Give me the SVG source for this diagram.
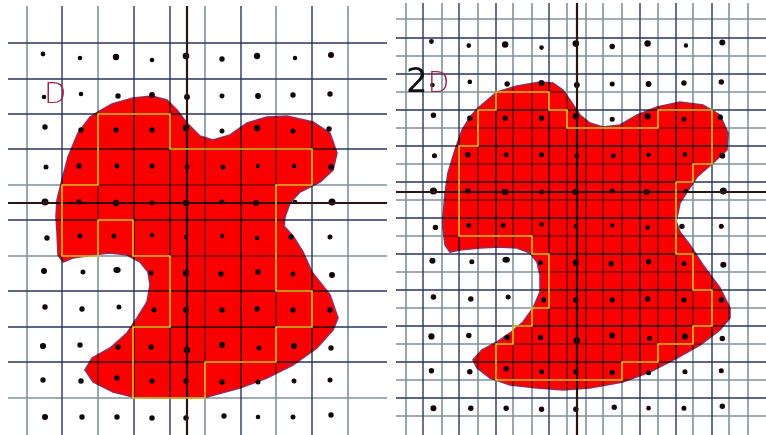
<svg xmlns="http://www.w3.org/2000/svg" xmlns:xlink="http://www.w3.org/1999/xlink" width="766" height="435" viewBox="0 0 766 435">
<style>
.gd{stroke:#28355e;stroke-width:1.4}
.gl{stroke:#7f939b;stroke-width:1.6}
.ax{stroke:#2a1510;stroke-width:2.2;fill:none}
.blob{fill:#fa0000;stroke:#9a2a55;stroke-width:1.6;mix-blend-mode:multiply}
.yel{fill:none;stroke:#e6c21c;stroke-width:1.6}
.dot{fill:#120606;stroke:#120606;stroke-width:1.4}
.hw{font-family:"DejaVu Sans",sans-serif;font-weight:200}
</style>
<defs>
<g id="dots" class="dot">
<circle cx="43" cy="54" r="1.7"/><circle cx="80" cy="58" r="1.6"/><circle cx="116" cy="57" r="2.5"/><circle cx="152" cy="60" r="1.6"/><circle cx="186" cy="56" r="2.6"/><circle cx="222" cy="59" r="2"/><circle cx="257" cy="56" r="2.5"/><circle cx="295" cy="58" r="1.5"/><circle cx="331" cy="55" r="2.3"/>
<circle cx="44" cy="97" r="1.6"/><circle cx="81" cy="94" r="1.6"/><circle cx="118" cy="96" r="2"/><circle cx="152" cy="95" r="2.2"/><circle cx="187" cy="97" r="2.2"/><circle cx="222" cy="96" r="1.8"/><circle cx="258" cy="96" r="2.2"/><circle cx="293" cy="95" r="2"/><circle cx="330" cy="94" r="2"/>
<circle cx="45" cy="127" r="2"/><circle cx="81" cy="130" r="2"/><circle cx="116" cy="130" r="2"/><circle cx="152" cy="130" r="2"/><circle cx="186" cy="128" r="2.5"/><circle cx="222" cy="131" r="1.8"/><circle cx="257" cy="128" r="2.5"/><circle cx="293" cy="131" r="1.8"/><circle cx="329" cy="129" r="2"/>
<circle cx="46" cy="167" r="1.8"/><circle cx="79" cy="166" r="2"/><circle cx="117" cy="166" r="1.8"/><circle cx="152" cy="166" r="1.8"/><circle cx="187" cy="167" r="1.8"/><circle cx="223" cy="167" r="1.8"/><circle cx="258" cy="166" r="1.5"/><circle cx="294" cy="166" r="1.6"/><circle cx="331" cy="167" r="2.2"/>
<circle cx="45" cy="202" r="2.8"/><circle cx="79" cy="202" r="2"/><circle cx="116" cy="203" r="2.5"/><circle cx="152" cy="203" r="1.7"/><circle cx="186" cy="203" r="2.5"/><circle cx="222" cy="202" r="1.8"/><circle cx="256" cy="203" r="2.3"/><circle cx="295" cy="202" r="1.6"/><circle cx="332" cy="202" r="2.8"/>
<circle cx="47" cy="238" r="2"/><circle cx="80" cy="236" r="1.8"/><circle cx="114" cy="236" r="1.8"/><circle cx="152" cy="235" r="1.6"/><circle cx="186" cy="237" r="1.6"/><circle cx="222" cy="236" r="1.5"/><circle cx="257" cy="238" r="1.6"/><circle cx="291" cy="237" r="2"/><circle cx="330" cy="237" r="1.8"/>
<circle cx="44" cy="271" r="2.3"/><circle cx="83" cy="272" r="1.8"/><ellipse cx="117" cy="270" rx="3" ry="2.3"/><circle cx="151" cy="273" r="1.8"/><circle cx="186" cy="273" r="2.5"/><circle cx="221" cy="274" r="2"/><circle cx="258" cy="272" r="2"/><circle cx="293" cy="274" r="1.7"/><circle cx="332" cy="275" r="2.3"/>
<circle cx="45" cy="307" r="2"/><circle cx="82" cy="309" r="2"/><circle cx="119" cy="307" r="1.8"/><circle cx="154" cy="310" r="1.8"/><circle cx="186" cy="310" r="2.2"/><circle cx="222" cy="310" r="2"/><circle cx="257" cy="309" r="2"/><circle cx="293" cy="310" r="2"/><circle cx="330" cy="310" r="2"/>
<circle cx="43" cy="346" r="2.4"/><circle cx="80" cy="345" r="2"/><circle cx="118" cy="347" r="2"/><circle cx="151" cy="347" r="2"/><circle cx="187" cy="350" r="2.6"/><circle cx="222" cy="345" r="2.2"/><circle cx="259" cy="348" r="1.8"/><circle cx="294" cy="346" r="2.2"/><circle cx="331" cy="348" r="2"/>
<circle cx="43" cy="380" r="2"/><circle cx="81" cy="381" r="2"/><circle cx="117" cy="378" r="2"/><circle cx="152" cy="381" r="1.8"/><circle cx="186" cy="381" r="2"/><circle cx="222" cy="382" r="2"/><circle cx="258" cy="382" r="1.8"/><circle cx="294" cy="381" r="1.8"/><circle cx="330" cy="380" r="1.8"/>
<circle cx="45" cy="417" r="2.3"/><circle cx="82" cy="417" r="2"/><circle cx="117" cy="417" r="2"/><circle cx="152" cy="418" r="2"/><circle cx="186" cy="418" r="2"/><circle cx="224" cy="416" r="2"/><circle cx="258" cy="417" r="1.6"/><circle cx="293" cy="417" r="1.8"/><circle cx="331" cy="415" r="2"/>
</g>
</defs>
<rect width="766" height="435" fill="#ffffff"/>

<g id="left-panel">
<g id="left-grid">
<path class="gl" d="M27 6V435M98 6V435M205 6V435M276 6V435M348 6V435M8 185H387M8 256H387M8 398H387"/>
<path class="gd" d="M62 6V435M134 6V435M170 6V435M241 6V435M312 6V435M8 43H387M8 79H387M8 114H387M8 149H387M8 220H387M8 291H387M8 327H387M8 362H387"/>
</g>
<use xlink:href="#dots"/>
<g id="left-axes"><path class="ax" d="M8 203H387M187 6V435"/></g>
<path id="left-blob" class="blob" d="M98 112L112 104L133 98L152 96L167 100L177 110L187 123L200 136L213 140L230 135L247 123L267 117L287 116L313 122L330 133L337 153L333 170L320 182L300 192L290 203L285 217L284 226L293 236L303 252L312 272L330 295L338 318L333 330L317 348L293 365L267 378L240 388L207 397L187 398L157 398L133 397L113 392L93 382L85 370L92 358L110 348L127 333L137 318L147 302L150 285L148 272L140 262L127 255L110 253L93 255L73 258L63 262L58 255L57 232L56 217L57 200L62 180L68 157L78 133L90 117Z"/>
<path id="left-outline" class="yel" d="M98 114H170V149H312V185H276V291H312V327H276V362H205V398H133V327H170V256H133V220H98V256H62V185H98Z"/>
<text class="hw" x="44" y="103" font-size="29" fill="#a0204f">D</text>
</g>

<g id="right-panel">
<g id="right-grid">
<path class="gl" d="M406 3V435M442 3V435M478 3V435M513 3V435M532 3V435M567 3V435M586 3V435M603 3V435M622 3V435M658 3V435M693 3V435M729 3V435M748 3V435M396 19H766M396 56H766M396 92H766M396 128H766M396 164H766M396 200H766M396 236H766M396 272H766M396 308H766M396 344H766M396 380H766M396 416H766"/>
<path class="gd" d="M423 3V435M459 3V435M496 3V435M549 3V435M640 3V435M676 3V435M712 3V435M396 38H766M396 74H766M396 110H766M396 146H766M396 182H766M396 218H766M396 254H766M396 290H766M396 326H766M396 362H766M396 398H766"/>
</g>
<use xlink:href="#dots" transform="translate(388,-13) scale(1.01)"/>
<g id="right-axes"><path class="ax" d="M396 192H766M577 3V435"/></g>
<path id="right-blob" class="blob" d="M478 108L497 92L517 86L540 82L553 83L563 90L572 103L580 115L590 123L603 127L620 125L637 115L657 107L680 102L703 105L720 115L728 133L727 150L713 163L697 177L687 192L680 203L678 213L676 221L680 232L690 245L703 265L720 288L730 308L730 318L720 330L700 345L677 358L650 372L623 382L590 388L563 390L537 388L510 385L490 378L477 368L473 360L482 350L497 342L510 333L523 322L533 308L540 292L540 275L537 262L530 253L517 248L500 247L480 248L460 250L450 252L445 245L443 228L443 217L445 193L448 173L455 150L462 130L470 117Z"/>
<path id="right-outline" class="yel" d="M496 92H549V110H567V128H658V110H712V164H693V182H676V254H693V290H712V326H693V344H658V362H622V380H496V344H513V326H532V308H549V254H532V236H459V146H478V110H496Z"/>
<text class="hw" x="406" y="92" font-size="34"><tspan fill="#111111" font-weight="normal">2</tspan><tspan fill="#a0204f" font-size="28">D</tspan></text>
</g>
</svg>
